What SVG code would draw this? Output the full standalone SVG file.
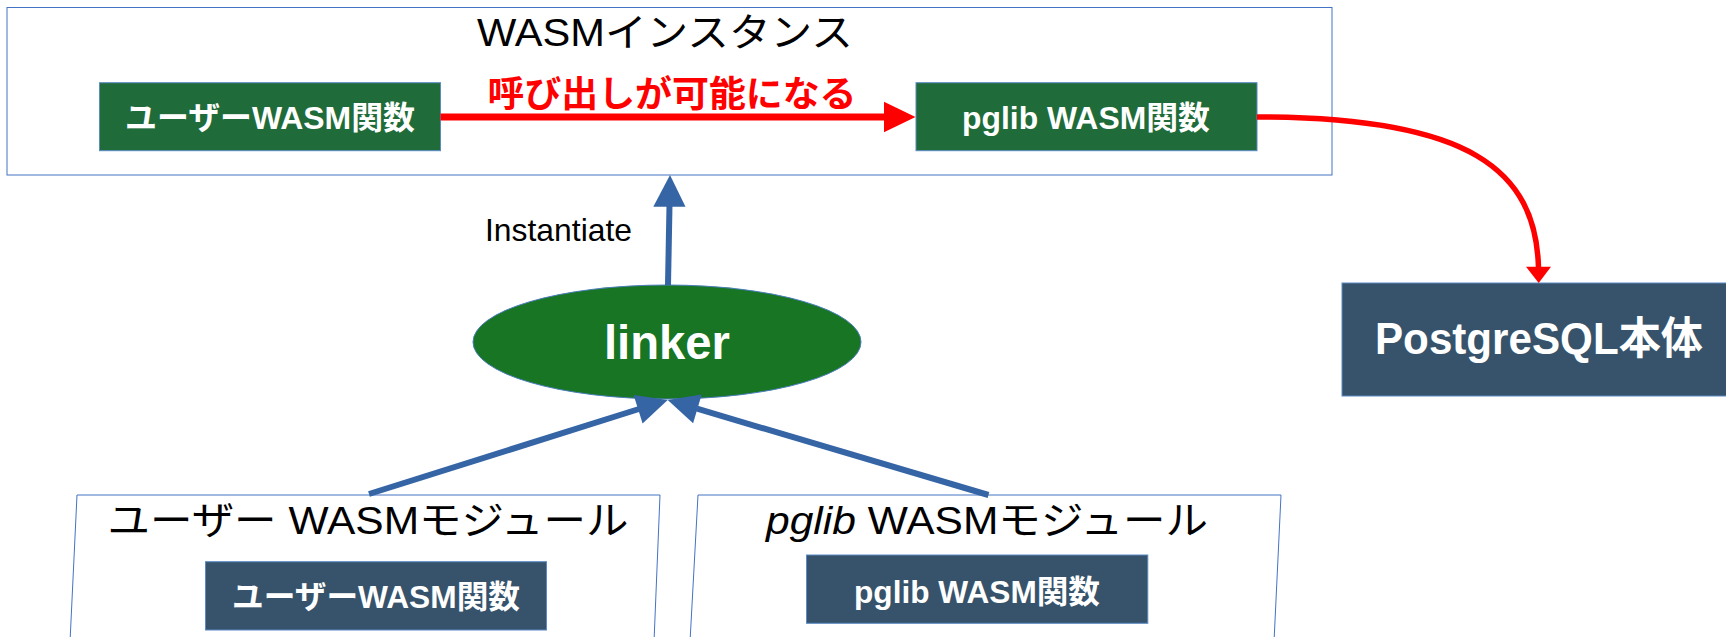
<svg xmlns="http://www.w3.org/2000/svg" width="1726" height="637" viewBox="0 0 1726 637">
  <style>
    .frame { fill: #ffffff; stroke: #4472c4; stroke-width: 1; }
    .green { fill: #1f6b3a; stroke: #5b8ac6; stroke-width: 1; }
    .slate { fill: #36536b; stroke: #5b8ac6; stroke-width: 1; }
    .t { font-family: "Liberation Sans", "Noto Sans CJK JP", sans-serif; text-anchor: middle; }
    .title { font-size: 39px; fill: #000000; }
    .lbl { font-size: 32px; font-weight: bold; fill: #ffffff; }
    .blue { stroke: #3665a6; stroke-width: 6; fill: none; }
    .bluehead { fill: #3665a6; }
    .red { stroke: #ff0000; fill: none; }
    .redhead { fill: #ff0000; }
  </style>

  <!-- WASM instance container -->
  <g id="wasm-instance">
    <rect class="frame" x="7" y="7.5" width="1325" height="167.5"/>
    <text class="t title" x="665" y="46" font-size="40" textLength="376" lengthAdjust="spacingAndGlyphs">WASMインスタンス</text>
  </g>

  <g id="instance-user-func">
    <rect class="green" x="99.5" y="82.7" width="341" height="68"/>
    <text class="t lbl" x="270" y="128.5" textLength="290" lengthAdjust="spacingAndGlyphs">ユーザーWASM関数</text>
  </g>

  <g id="instance-pglib-func">
    <rect class="green" x="916" y="82.7" width="341" height="68"/>
    <text class="t lbl" x="1086" y="128.5" textLength="248" lengthAdjust="spacingAndGlyphs">pglib WASM関数</text>
  </g>

  <!-- Linker -->
  <g id="linker">
    <ellipse cx="667" cy="342" rx="194" ry="57" fill="#177523" stroke="#4a7ebb" stroke-width="1"/>
    <text class="t" x="667" y="359" font-size="48" font-weight="bold" fill="#ffffff" textLength="126" lengthAdjust="spacingAndGlyphs">linker</text>
  </g>

  <!-- PostgreSQL core -->
  <g id="postgresql">
    <rect class="slate" x="1342" y="283" width="400" height="113"/>
    <text class="t" x="1539" y="354" font-size="44" font-weight="bold" fill="#ffffff" textLength="328" lengthAdjust="spacingAndGlyphs">PostgreSQL本体</text>
  </g>

  <!-- User WASM module -->
  <g id="user-module">
    <polygon class="frame" points="77,495 660,495 654,642 70,642"/>
    <text class="t title" x="368" y="534" textLength="521" lengthAdjust="spacingAndGlyphs">ユーザー WASMモジュール</text>
  </g>
  <g id="user-module-func">
    <rect class="slate" x="205.5" y="561.7" width="341" height="68.3"/>
    <text class="t lbl" x="376" y="607.5" textLength="288" lengthAdjust="spacingAndGlyphs">ユーザーWASM関数</text>
  </g>

  <!-- pglib WASM module -->
  <g id="pglib-module">
    <polygon class="frame" points="698,495 1281,495 1274,642 690,642"/>
    <text class="t title" x="987" y="534" textLength="442" lengthAdjust="spacingAndGlyphs"><tspan font-style="italic">pglib</tspan> WASMモジュール</text>
  </g>
  <g id="pglib-module-func">
    <rect class="slate" x="806.5" y="555" width="341.3" height="68.3"/>
    <text class="t lbl" x="977" y="602.5" textLength="246" lengthAdjust="spacingAndGlyphs">pglib WASM関数</text>
  </g>

  <!-- Connectors -->
  <g id="connectors">
    <!-- call from user function to pglib function -->
    <line class="red" x1="440.5" y1="117" x2="886" y2="117" stroke-width="7"/>
    <polygon class="redhead" points="884,101.7 915.5,117 884,132.3"/>
    <text class="t" x="672" y="107" font-size="36" font-weight="bold" fill="#ff0000" textLength="369" lengthAdjust="spacingAndGlyphs">呼び出しが可能になる</text>

    <!-- pglib function to PostgreSQL -->
    <path class="red" d="M1257,117 C1470,117 1536,170 1538.5,268" stroke-width="5.5"/>
    <polygon class="redhead" points="1526,266.7 1551,266.7 1538.7,283"/>

    <!-- linker instantiates -->
    <line class="blue" x1="668" y1="285" x2="669.5" y2="205"/>
    <polygon class="bluehead" points="653.3,206.7 670,175 685.5,206.7"/>
    <text class="t" x="558.5" y="241" font-size="32" fill="#000000" textLength="147" lengthAdjust="spacingAndGlyphs">Instantiate</text>

    <!-- modules into linker -->
    <line class="blue" x1="369" y1="494" x2="639" y2="409"/>
    <polygon class="bluehead" points="667.7,400 642.6,423.6 633.6,395"/>
    <line class="blue" x1="988.5" y1="495" x2="697" y2="408.7"/>
    <polygon class="bluehead" points="667.7,400 701.7,394.4 693.1,423.2"/>
  </g>
</svg>
